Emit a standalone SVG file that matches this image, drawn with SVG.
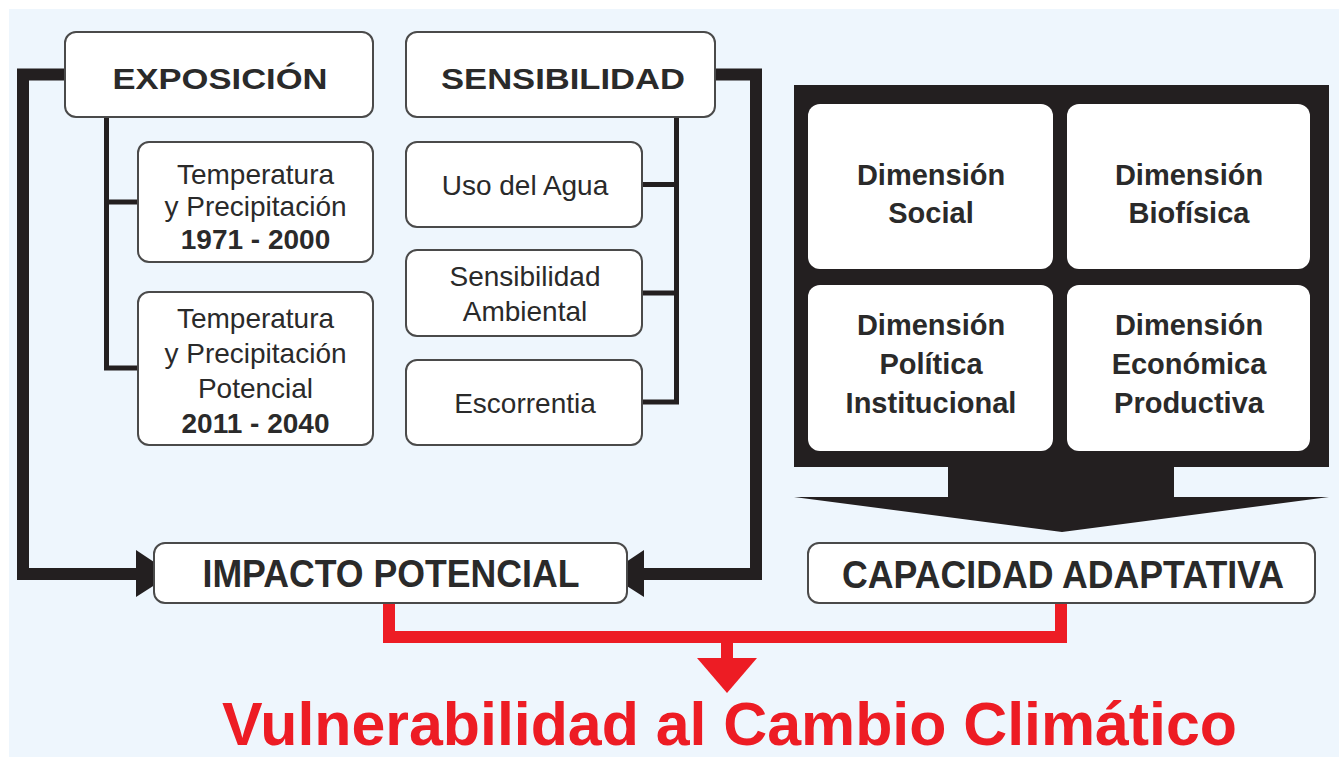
<svg xmlns="http://www.w3.org/2000/svg" width="1339" height="757" viewBox="0 0 1339 757">
<defs>
<style>
.bx{fill:#fff;stroke:#4a4a4a;stroke-width:2}
.thin{fill:none;stroke:#231F20;stroke-width:5}
.thick{fill:none;stroke:#231F20;stroke-width:12}
.red{fill:none;stroke:#ED1C24;stroke-width:12}
.t{font-family:"Liberation Sans",Arial,sans-serif;fill:#2a2a2a;text-anchor:middle}
.r{font-size:28px}
.b{font-weight:bold}
.h{font-size:30px;font-weight:bold}
.d{font-size:29px;font-weight:bold}
.big{font-size:39px}
</style>
</defs>
<rect x="0" y="0" width="1339" height="757" fill="#ffffff"/>
<rect x="9" y="9" width="1330" height="748" fill="#EEF6FD"/>

<g id="connectors">
<path class="thin" d="M106.5,117 V368 H138 M106.5,202 H138"/>
<path class="thin" d="M676.5,117 V402 H642 M676.5,184.5 H642 M676.5,293 H642"/>
<path class="thick" d="M65,74.5 H23 V574 H140"/>
<polygon points="136,550 172,574 136,597" fill="#231F20"/>
<path class="thick" d="M715,74.5 H756 V574 H640"/>
<polygon points="644,550 608,574 644,597" fill="#231F20"/>
<path class="red" d="M389,603 V637 H1061 V603 M727,637 V662"/>
<polygon points="697,658 757,658 727,693" fill="#ED1C24"/>
</g>

<g id="exposicion">
<rect class="bx" x="65" y="32" width="308" height="85" rx="11"/>
<text class="t h" x="220" y="89" textLength="215" lengthAdjust="spacingAndGlyphs">EXPOSICIÓN</text>
</g>
<g id="sensibilidad">
<rect class="bx" x="406" y="32" width="309" height="85" rx="11"/>
<text class="t h" x="563" y="89" textLength="244" lengthAdjust="spacingAndGlyphs">SENSIBILIDAD</text>
</g>
<g id="temp1">
<rect class="bx" x="138" y="142" width="235" height="120" rx="11"/>
<text class="t r" x="255.5" y="184">Temperatura</text>
<text class="t r" x="255.5" y="216">y Precipitación</text>
<text class="t r b" x="255.5" y="249">1971 - 2000</text>
</g>
<g id="temp2">
<rect class="bx" x="138" y="292" width="235" height="153" rx="11"/>
<text class="t r" x="255.5" y="328">Temperatura</text>
<text class="t r" x="255.5" y="363">y Precipitación</text>
<text class="t r" x="255.5" y="398">Potencial</text>
<text class="t r b" x="255.5" y="433">2011 - 2040</text>
</g>
<g id="uso">
<rect class="bx" x="406" y="142" width="236" height="85" rx="11"/>
<text class="t r" x="525" y="195">Uso del Agua</text>
</g>
<g id="ambiental">
<rect class="bx" x="406" y="250" width="236" height="86" rx="11"/>
<text class="t r" x="525" y="286">Sensibilidad</text>
<text class="t r" x="525" y="321">Ambiental</text>
</g>
<g id="escorrentia">
<rect class="bx" x="406" y="360" width="236" height="85" rx="11"/>
<text class="t r" x="525" y="413">Escorrentia</text>
</g>

<g id="dimensiones">
<rect x="794" y="85" width="535" height="382" fill="#231F20"/>
<polygon points="794,497 948,497 948,466 1174,466 1174,497 1329,497 1062,532" fill="#231F20"/>
<rect x="808" y="104" width="245" height="165" rx="12" fill="#fff"/>
<rect x="1067" y="104" width="243" height="165" rx="12" fill="#fff"/>
<rect x="808" y="285" width="245" height="166" rx="12" fill="#fff"/>
<rect x="1067" y="285" width="243" height="166" rx="12" fill="#fff"/>
<text class="t d" x="931" y="185">Dimensión</text>
<text class="t d" x="931" y="223">Social</text>
<text class="t d" x="1189" y="185">Dimensión</text>
<text class="t d" x="1189" y="223">Biofísica</text>
<text class="t d" x="931" y="335">Dimensión</text>
<text class="t d" x="931" y="374">Política</text>
<text class="t d" x="931" y="413">Institucional</text>
<text class="t d" x="1189" y="335">Dimensión</text>
<text class="t d" x="1189" y="374">Económica</text>
<text class="t d" x="1189" y="413">Productiva</text>
</g>

<g id="impacto">
<rect class="bx" x="154" y="543" width="473" height="60" rx="11"/>
<text class="t big b" x="391" y="587" textLength="377" lengthAdjust="spacingAndGlyphs">IMPACTO POTENCIAL</text>
</g>
<g id="capacidad">
<rect class="bx" x="808" y="543" width="507" height="60" rx="11"/>
<text class="t big b" x="1063" y="588" textLength="442" lengthAdjust="spacingAndGlyphs">CAPACIDAD ADAPTATIVA</text>
</g>

<g id="titulo">
<text class="t b" x="729.5" y="745" font-size="62" style="fill:#ED1C24" textLength="1015" lengthAdjust="spacingAndGlyphs">Vulnerabilidad al Cambio Climático</text>
</g>
</svg>
